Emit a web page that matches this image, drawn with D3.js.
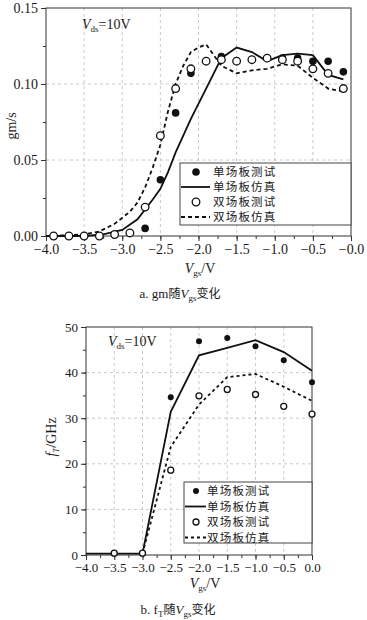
<!DOCTYPE html>
<html>
<head>
<meta charset="utf-8">
<script src="https://cdn.jsdelivr.net/npm/d3@7"></script>
<style>
  body { margin: 0; background: #fff; }
  text { font-family: "Liberation Serif", "Times New Roman", serif; fill: #1a1a1a; }
  .cjk { font-family: "Noto Sans CJK SC", sans-serif; }
</style>
</head>
<body>
<svg id="chart" width="367" height="620"></svg>
<script>
"use strict";

// legend labels
var legendLabels = ["单场板测试", "单场板仿真", "双场板测试", "双场板仿真"];

// --- panel a: gm vs Vgs ---
var gmSingleMeasX = [-2.7, -2.5, -2.3, -2.1, -1.7, -0.9, -0.7, -0.5, -0.3, -0.1];
var gmSingleMeasY = [0.005, 0.037, 0.081, 0.107, 0.118, 0.117, 0.117, 0.115, 0.115, 0.108];

var gmDoubleMeasX = [-3.9, -3.7, -3.5, -3.3, -3.1, -2.9, -2.7, -2.5, -2.3, -2.1, -1.9, -1.7, -1.5, -1.3, -1.1, -0.9, -0.7, -0.5, -0.3, -0.1];
var gmDoubleMeasY = [0.000, 0.000, 0.000, 0.000, 0.001, 0.002, 0.019, 0.066, 0.097, 0.110, 0.115, 0.116, 0.115, 0.116, 0.117, 0.116, 0.115, 0.110, 0.107, 0.097];

var gmSingleSimX = [-4.0, -3.5, -3.25, -3.0, -2.8, -2.6, -2.5, -2.4, -2.3, -2.1, -1.9, -1.7, -1.5, -1.3, -1.1, -0.9, -0.7, -0.5, -0.3, -0.1];
var gmSingleSimY = [0.000, 0.000, 0.001, 0.004, 0.011, 0.024, 0.031, 0.042, 0.055, 0.077, 0.097, 0.117, 0.124, 0.121, 0.115, 0.119, 0.120, 0.119, 0.106, 0.103];

var gmDoubleSimX = [-4.0, -3.5, -3.3, -3.1, -2.9, -2.8, -2.7, -2.6, -2.5, -2.4, -2.3, -2.2, -2.1, -2.0, -1.9, -1.8, -1.7, -1.5, -1.3, -1.1, -0.9, -0.7, -0.5, -0.3, -0.1];
var gmDoubleSimY = [0.000, 0.001, 0.003, 0.008, 0.016, 0.022, 0.032, 0.045, 0.060, 0.082, 0.100, 0.112, 0.121, 0.124, 0.126, 0.119, 0.112, 0.107, 0.109, 0.110, 0.113, 0.112, 0.104, 0.097, 0.095];

var gmXTicks = [-4.0, -3.5, -3.0, -2.5, -2.0, -1.5, -1.0, -0.5, 0.0];
var gmYTicks = [0.00, 0.05, 0.10, 0.15];

// --- panel b: fT vs Vgs ---
var ftSingleMeasX = [-2.5, -2.0, -1.5, -1.0, -0.5, 0.0];
var ftSingleMeasY = [34.6, 46.9, 47.6, 45.8, 42.7, 37.9];

var ftDoubleMeasX = [-3.5, -3.0, -2.5, -2.0, -1.5, -1.0, -0.5, 0.0];
var ftDoubleMeasY = [0.4, 0.4, 18.6, 34.9, 36.3, 35.2, 32.6, 30.9];

var ftSingleSimX = [-4.0, -3.5, -3.0, -2.5, -2.0, -1.5, -1.0, -0.5, 0.0];
var ftSingleSimY = [0.3, 0.3, 0.3, 31.4, 43.8, 45.4, 47.1, 44.5, 40.4];

var ftDoubleSimX = [-3.0, -2.5, -2.0, -1.5, -1.0, -0.5, 0.0];
var ftDoubleSimY = [0.3, 23.7, 33.0, 39.0, 39.7, 36.9, 33.8];

var ftXTicks = [-4.0, -3.5, -3.0, -2.5, -2.0, -1.5, -1.0, -0.5, 0.0];
var ftYTicks = [0, 10, 20, 30, 40, 50];

function zip(xs, ys) {
  return xs.map(function (x, i) { return { x: x, y: ys[i] }; });
}

var svg = d3.select("#chart");

function drawPanel(cfg) {
  var x = d3.scaleLinear().domain([-4, 0]).range([cfg.left, cfg.right]);
  var y = d3.scaleLinear().domain(cfg.yDomain).range([cfg.bottom, cfg.top]);
  var g = svg.append("g");

  // grid
  g.append("g").selectAll("line.vg")
    .data(cfg.xTicks.slice(1, -1))
    .enter().append("line")
    .attr("x1", function (d) { return x(d); }).attr("x2", function (d) { return x(d); })
    .attr("y1", cfg.top).attr("y2", cfg.bottom)
    .attr("stroke", "#bdbdbd").attr("stroke-dasharray", "3,3").attr("stroke-width", 0.8);
  g.append("g").selectAll("line.hg")
    .data(cfg.yTicks.slice(1, -1))
    .enter().append("line")
    .attr("y1", function (d) { return y(d); }).attr("y2", function (d) { return y(d); })
    .attr("x1", cfg.left).attr("x2", cfg.right)
    .attr("stroke", "#bdbdbd").attr("stroke-dasharray", "3,3").attr("stroke-width", 0.8);

  // frame
  g.append("rect")
    .attr("x", cfg.left).attr("y", cfg.top)
    .attr("width", cfg.right - cfg.left).attr("height", cfg.bottom - cfg.top)
    .attr("fill", "none").attr("stroke", "#333").attr("stroke-width", 1);

  // minor ticks
  g.append("g")
    .attr("transform", "translate(0," + cfg.bottom + ")")
    .call(d3.axisBottom(x).tickValues(d3.range(-4, 0.01, 0.25)).tickSize(3).tickFormat(""))
    .call(function (a) { a.select(".domain").remove(); });
  g.append("g")
    .attr("transform", "translate(" + cfg.left + ",0)")
    .call(d3.axisLeft(y).tickValues(cfg.yMinor).tickSize(3).tickFormat(""))
    .call(function (a) { a.select(".domain").remove(); });

  // major axes
  var xAxis = g.append("g")
    .attr("transform", "translate(0," + cfg.bottom + ")")
    .call(d3.axisBottom(x).tickValues(cfg.xTicks).tickSize(5).tickPadding(3).tickFormat(cfg.xFormat));
  var yAxis = g.append("g")
    .attr("transform", "translate(" + cfg.left + ",0)")
    .call(d3.axisLeft(y).tickValues(cfg.yTicks).tickSize(5).tickPadding(3).tickFormat(cfg.yFormat));
  [xAxis, yAxis].forEach(function (a) {
    a.select(".domain").remove();
    a.selectAll("text").style("font-family", "Liberation Serif").style("font-size", cfg.tickFont + "px").attr("fill", "#1a1a1a");
  });
  g.selectAll(".tick line").attr("stroke", "#333");

  // lines
  var line = d3.line().x(function (d) { return x(d.x); }).y(function (d) { return y(d.y); });
  g.append("path").datum(cfg.singleSim)
    .attr("d", line).attr("fill", "none").attr("stroke", "#111").attr("stroke-width", 1.8);
  g.append("path").datum(cfg.doubleSim)
    .attr("d", line).attr("fill", "none").attr("stroke", "#111").attr("stroke-width", 1.8)
    .attr("stroke-dasharray", cfg.dash);

  // points
  g.append("g").selectAll("circle")
    .data(cfg.singleMeas).enter().append("circle")
    .attr("cx", function (d) { return x(d.x); }).attr("cy", function (d) { return y(d.y); })
    .attr("r", cfg.r).attr("fill", "#111");
  g.append("g").selectAll("circle")
    .data(cfg.doubleMeas).enter().append("circle")
    .attr("cx", function (d) { return x(d.x); }).attr("cy", function (d) { return y(d.y); })
    .attr("r", cfg.r).attr("fill", "#fff").attr("stroke", "#111").attr("stroke-width", 1.3);

  // Vds label
  var vds = g.append("text").attr("x", cfg.vdsX).attr("y", cfg.vdsY).style("font-size", "14px");
  vds.append("tspan").attr("font-style", "italic").text("V");
  vds.append("tspan").attr("dy", 3).style("font-size", "9px").text("ds");
  vds.append("tspan").attr("dy", -3).text("=10V");

  // x title
  var xt = g.append("text").attr("x", cfg.xTitleX).attr("y", cfg.xTitleY)
    .attr("text-anchor", "middle").style("font-size", "14px");
  xt.append("tspan").attr("font-style", "italic").text("V");
  xt.append("tspan").attr("dy", 3).style("font-size", "9px").text("gs");
  xt.append("tspan").attr("dy", -3).text("/V");

  // legend
  var lg = g.append("g");
  lg.append("rect")
    .attr("x", cfg.legX).attr("y", cfg.legY)
    .attr("width", cfg.legW).attr("height", cfg.legH)
    .attr("fill", "#fff").attr("stroke", "#444").attr("stroke-width", 1);
  legendLabels.forEach(function (lab, i) {
    var cy = cfg.legY + 9 + i * cfg.legStep;
    if (i === 0 || i === 2) {
      lg.append("circle").attr("cx", cfg.legX + cfg.legMark).attr("cy", cy).attr("r", cfg.r)
        .attr("fill", i === 0 ? "#111" : "#fff").attr("stroke", "#111").attr("stroke-width", i === 0 ? 0 : 1.3);
    } else {
      lg.append("line").attr("x1", cfg.legX + 1).attr("x2", cfg.legX + cfg.legMark * 2 - 2)
        .attr("y1", cy).attr("y2", cy).attr("stroke", "#111").attr("stroke-width", 1.8)
        .attr("stroke-dasharray", i === 3 ? cfg.dash : null);
    }
    lg.append("text").attr("class", "cjk")
      .attr("x", cfg.legX + cfg.legText).attr("y", cy + 4)
      .style("font-size", "11.5px").style("letter-spacing", "1.2px")
      .style("font-family", "Noto Sans CJK SC").text(lab);
  });
  return g;
}

drawPanel({
  left: 46, right: 351, top: 8, bottom: 236,
  yDomain: [0, 0.15], xTicks: gmXTicks, yTicks: gmYTicks,
  yMinor: d3.range(0, 0.151, 0.025),
  xFormat: function (d) { return "\u2212" + Math.abs(d).toFixed(1); },
  yFormat: function (d) { return d.toFixed(2); },
  tickFont: 14,
  singleMeas: zip(gmSingleMeasX, gmSingleMeasY),
  doubleMeas: zip(gmDoubleMeasX, gmDoubleMeasY),
  singleSim: zip(gmSingleSimX, gmSingleSimY),
  doubleSim: zip(gmDoubleSimX, gmDoubleSimY),
  dash: "4,3", r: 3.8,
  vdsX: 82, vdsY: 29,
  xTitleX: 200, xTitleY: 273,
  legX: 180, legY: 163, legW: 171, legH: 62, legStep: 15, legMark: 16, legText: 33
});

drawPanel({
  left: 86, right: 312, top: 327, bottom: 555,
  yDomain: [0, 50], xTicks: ftXTicks, yTicks: ftYTicks,
  yMinor: d3.range(0, 50.1, 5),
  xFormat: function (d) { return d < 0 ? "\u2212" + Math.abs(d).toFixed(1) : "0.0"; },
  yFormat: function (d) { return String(d); },
  tickFont: 13,
  singleMeas: zip(ftSingleMeasX, ftSingleMeasY),
  doubleMeas: zip(ftDoubleMeasX, ftDoubleMeasY),
  singleSim: zip(ftSingleSimX, ftSingleSimY),
  doubleSim: zip(ftDoubleSimX, ftDoubleSimY),
  dash: "3,3", r: 3,
  vdsX: 108, vdsY: 346,
  xTitleX: 205, xTitleY: 588,
  legX: 184, legY: 482, legW: 128, legH: 61, legStep: 15.5, legMark: 12, legText: 23
});

// y titles
svg.append("text").attr("transform", "translate(16,126) rotate(-90)")
  .attr("text-anchor", "middle").style("font-size", "14px").text("gm/s");
var ft = svg.append("text").attr("transform", "translate(56,437) rotate(-90)")
  .attr("text-anchor", "middle").style("font-size", "14px");
ft.append("tspan").attr("font-style", "italic").text("f");
ft.append("tspan").attr("dy", 3).attr("font-style", "italic").style("font-size", "9px").text("T");
ft.append("tspan").attr("dy", -3).text("/GHz");

// captions
function caption(xc, yc, parts) {
  var t = svg.append("text").attr("x", xc).attr("y", yc).attr("text-anchor", "middle").style("font-size", "13px");
  parts.forEach(function (p) {
    var s = t.append("tspan").text(p.t);
    if (p.cjk) s.style("font-family", "Noto Sans CJK SC").style("font-size", "12px");
    if (p.it) s.attr("font-style", "italic");
    if (p.sub) s.style("font-size", "9px");
    if (p.dy) s.attr("dy", p.dy);
  });
}
caption(180, 298, [
  { t: "a. gm" }, { t: "随", cjk: true }, { t: "V", it: true },
  { t: "gs", sub: true, dy: 3 }, { t: "变化", cjk: true, dy: -3 }
]);
caption(178, 614, [
  { t: "b. f" }, { t: "T", sub: true, dy: 3 }, { t: "随", cjk: true, dy: -3 },
  { t: "V", it: true }, { t: "gs", sub: true, dy: 3 }, { t: "变化", cjk: true, dy: -3 }
]);
</script>
</body>
</html>
